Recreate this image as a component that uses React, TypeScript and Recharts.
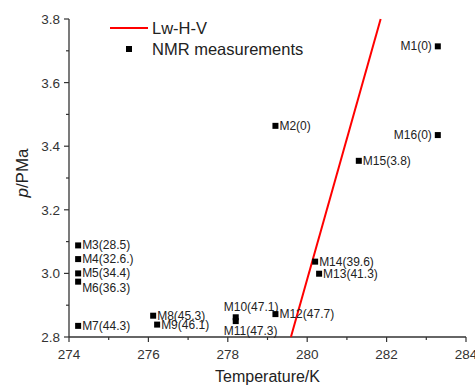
import React from "react";
import { ScatterChart, Scatter, XAxis, YAxis } from "recharts";

// NMR measurement points: name, temperature (K), pressure (MPa)
const names = ["M1(0)", "M2(0)", "M3(28.5)", "M4(32.6.)", "M5(34.4)", "M6(36.3)", "M7(44.3)", "M8(45.3)", "M9(46.1)", "M10(47.1)", "M11(47.3)", "M12(47.7)", "M13(41.3)", "M14(39.6)", "M15(3.8)", "M16(0)"];
const temps = [283.29, 279.2, 274.23, 274.23, 274.23, 274.23, 274.23, 276.12, 276.22, 278.2, 278.2, 279.2, 280.3, 280.2, 281.3, 283.29];
const pressures = [3.714, 3.464, 3.088, 3.045, 3.0, 2.974, 2.835, 2.867, 2.839, 2.862, 2.85, 2.872, 2.999, 3.037, 3.354, 3.435];

// Lw-H-V equilibrium line
const lineTemps = [279.59, 281.85];
const linePressures = [2.8, 3.8];

const xTicks = [274, 275, 276, 277, 278, 279, 280, 281, 282, 283, 284];
const yTicks = [2.8, 2.9, 3.0, 3.1, 3.2, 3.3, 3.4, 3.5, 3.6, 3.7, 3.8];

const points = names.map((name, i) => ({ name, t: temps[i], p: pressures[i] }));
const lineData = lineTemps.map((t, i) => ({ t, p: linePressures[i] }));

// where each label sits relative to its marker
const labelPlace: Record<string, { dx: number; dy: number; anchor: string }> = {
  "M1(0)": { dx: -6, dy: 4, anchor: "end" },
  "M16(0)": { dx: -6, dy: 4, anchor: "end" },
  "M10(47.1)": { dx: -12, dy: -6, anchor: "start" },
  "M11(47.3)": { dx: -12, dy: 14, anchor: "start" },
  "M6(36.3)": { dx: 4, dy: 10, anchor: "start" },
};

const FONT = "'Liberation Sans', Arial, sans-serif";

const PointShape = (props: any) => {
  const { cx, cy, payload } = props;
  const place = labelPlace[payload.name] || { dx: 4, dy: 4, anchor: "start" };
  return (
    <g>
      <rect x={cx - 3} y={cy - 3} width={6} height={6} fill="#000" />
      <text
        x={cx + place.dx}
        y={cy + place.dy}
        textAnchor={place.anchor as any}
        fontSize={12}
        fontFamily={FONT}
        fill="#222"
      >
        {payload.name}
      </text>
    </g>
  );
};

const XTick = (props: any) => {
  const { x, y, payload } = props;
  const major = payload.value % 2 === 0;
  return (
    <g>
      <line x1={x} x2={x} y1={y} y2={y + (major ? 5 : 3)} stroke="#333" strokeWidth={1.2} />
      {major && (
        <text x={x} y={y + 22} textAnchor="middle" fontSize={13.5} fontFamily={FONT} fill="#333">
          {payload.value}
        </text>
      )}
    </g>
  );
};

const YTick = (props: any) => {
  const { x, y, payload, index } = props;
  const major = index % 2 === 0;
  return (
    <g>
      <line x1={x} x2={x - (major ? 5 : 3)} y1={y} y2={y} stroke="#333" strokeWidth={1.2} />
      {major && (
        <text x={x - 9} y={y + 5} textAnchor="end" fontSize={13.5} fontFamily={FONT} fill="#333">
          {payload.value.toFixed(1)}
        </text>
      )}
    </g>
  );
};

const YTitle = () => (
  <text
    transform="translate(28,173) rotate(-90)"
    textAnchor="middle"
    fontSize={17}
    fontFamily={FONT}
    fill="#222"
  >
    <tspan fontStyle="italic">p</tspan>/PMa
  </text>
);

const XTitle = () => (
  <text x={267.5} y={382} textAnchor="middle" fontSize={16} fontFamily={FONT} fill="#222">
    Temperature/K
  </text>
);

export default function App() {
  return (
    <div style={{ position: "absolute", left: 0, top: 0, width: 475, height: 385, background: "#fff" }}>
      <ScatterChart width={475} height={385} margin={{ top: 19, right: 9, bottom: 0, left: 0 }}>
        <XAxis
          type="number"
          dataKey="t"
          domain={[274, 284]}
          ticks={xTicks}
          interval={0}
          height={48}
          tickSize={0}
          tickMargin={0}
          tickLine={false}
          tick={<XTick />}
          axisLine={{ stroke: "#333", strokeWidth: 1.3 }}
          label={<XTitle />}
        />
        <YAxis
          type="number"
          dataKey="p"
          domain={[2.8, 3.8]}
          ticks={yTicks}
          interval={0}
          width={69}
          tickSize={0}
          tickMargin={0}
          tickLine={false}
          tick={<YTick />}
          axisLine={{ stroke: "#333", strokeWidth: 1.3 }}
          label={<YTitle />}
        />
        <Scatter
          data={lineData}
          line={{ stroke: "#ff0000", strokeWidth: 2 }}
          shape={() => <g />}
          isAnimationActive={false}
          legendType="none"
        />
        <Scatter data={points} shape={<PointShape />} isAnimationActive={false} />
      </ScatterChart>
      {/* legend overlay, top-left of the plot */}
      <svg width={320} height={60} style={{ position: "absolute", left: 0, top: 0 }}>
        <line x1={110} x2={148} y1={28} y2={28} stroke="#ff0000" strokeWidth={2} />
        <text x={152} y={34} fontSize={16.5} fontFamily={FONT} fill="#222">
          Lw-H-V
        </text>
        <rect x={126} y={46} width={6} height={6} fill="#000" />
        <text x={152} y={55} fontSize={16.5} fontFamily={FONT} fill="#222">
          NMR measurements
        </text>
      </svg>
    </div>
  );
}
